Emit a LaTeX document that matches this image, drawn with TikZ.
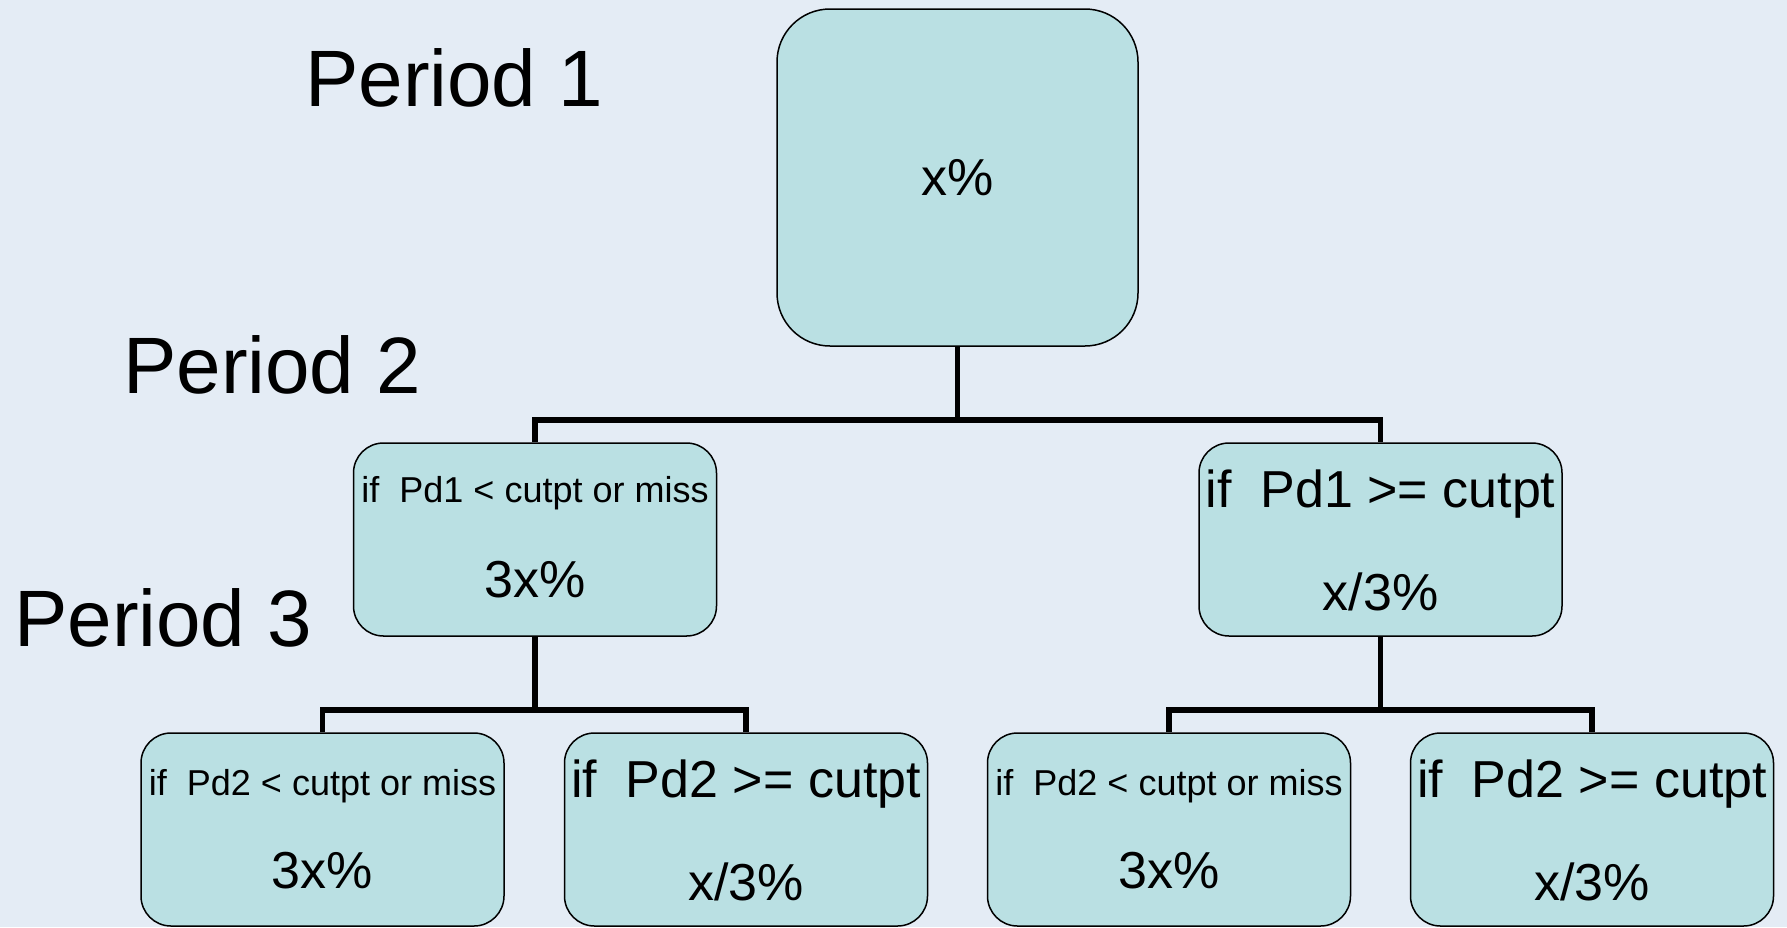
\documentclass[tikz,border=0pt]{standalone}
\usepackage{fontspec}
\setmainfont{Liberation Sans}
\definecolor{bgcol}{HTML}{E4ECF5}
\definecolor{boxcol}{HTML}{BAE0E3}
\tikzset{
  box/.style={draw=black, line width=1.5pt, fill=boxcol, rounded corners=30pt, inner sep=0pt, minimum width=363pt, minimum height=193pt},
  topbox/.style={box, rounded corners=53pt, minimum width=361pt, minimum height=337pt},
  conn/.style={line width=5.5pt, line cap=butt},
  txt/.style={anchor=base, inner sep=0pt},
  small/.style={txt, font=\fontsize{36}{42}\selectfont},
  big/.style={txt, font=\fontsize{52}{60}\selectfont},
  val/.style={txt, font=\fontsize{52}{60}\selectfont},
  period/.style={anchor=base west, inner sep=0pt, font=\fontsize{80}{90}\selectfont}
}
\begin{document}
\begin{tikzpicture}[x=1pt,y=-1pt]
\fill[bgcol] (0,0) rectangle (1787,927);
\useasboundingbox (0,0) rectangle (1787,927);

\node[topbox] (top) at (957.5,177.5) {};
\node[box] (ml) at (535,539.5) {};
\node[box] (mr) at (1380.5,539.5) {};
\node[box] (b1) at (322.5,829.5) {};
\node[box] (b2) at (746,829.5) {};
\node[box] (b3) at (1169,829.5) {};
\node[box] (b4) at (1592,829.5) {};

\coordinate (j1) at (957.5,420);
\coordinate (j2) at (535,710);
\coordinate (j3) at (1380.5,710);

\draw[conn] (top.south) -- (j1);
\draw[conn] (ml.north) |- (j1) -| (mr.north);
\draw[conn] (ml.south) -- (j2);
\draw[conn] (b1.north) |- (j2) -| (b2.north);
\draw[conn] (mr.south) -- (j3);
\draw[conn] (b3.north) |- (j3) -| (b4.north);

\node[val] (tt) at (957.5,195) {x\%};

\node[small] (mlt1) at (535,502) {if\ \ Pd1 < cutpt or miss};
\node[val] (mlt2) at (535,597) {3x\%};
\node[big] (mrt1) at (1380.5,507) {if\ \ Pd1 >= cutpt};
\node[val] (mrt2) at (1380.5,610) {x/3\%};

\node[small] (b1t1) at (322.5,795) {if\ \ Pd2 < cutpt or miss};
\node[val] (b1t2) at (322.5,888) {3x\%};
\node[big] (b2t1) at (746,797) {if\ \ Pd2 >= cutpt};
\node[val] (b2t2) at (746,900) {x/3\%};
\node[small] (b3t1) at (1169,795) {if\ \ Pd2 < cutpt or miss};
\node[val] (b3t2) at (1169,888) {3x\%};
\node[big] (b4t1) at (1592,797) {if\ \ Pd2 >= cutpt};
\node[val] (b4t2) at (1592,900) {x/3\%};

\node[period] (p1) at (305,106) {Period 1};
\node[period] (p2) at (123,393) {Period 2};
\node[period] (p3) at (14,646) {Period 3};
\end{tikzpicture}
\end{document}
